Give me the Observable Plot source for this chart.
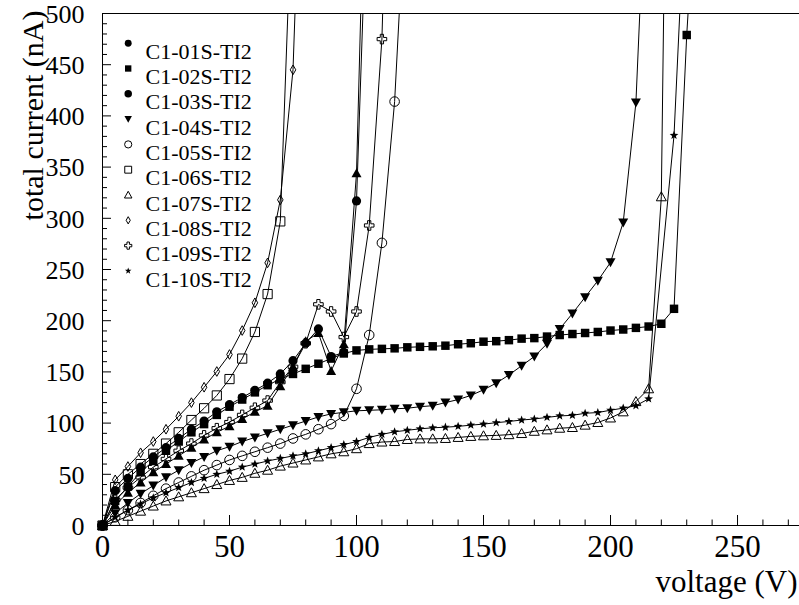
<!DOCTYPE html>
<html>
<head>
<meta charset="utf-8">
<script src="https://cdn.jsdelivr.net/npm/d3@7"></script>
<script src="https://cdn.jsdelivr.net/npm/@observablehq/plot@0.6"></script>
<style>
  body { margin: 0; background: #fff; }
  #chart { width: 799px; height: 605px; }
</style>
</head>
<body>
<div id="chart"></div>
<script>
// ---------- data ----------
const voltage = [0,5,10,15,20,25,30,35,40,45,50,55,60,65,70,75,80,85,90,95,100,105,110,115,
                 120,125,130,135,140,145,150,155,160,165,170,175,180,185,190,195,200,205,210,215,
                 220,225,230,235];

const seriesNames = ["C1-01S-TI2","C1-02S-TI2","C1-03S-TI2","C1-04S-TI2","C1-05S-TI2",
                     "C1-06S-TI2","C1-07S-TI2","C1-08S-TI2","C1-09S-TI2","C1-10S-TI2"];

const c01 = [0,34,46,57,67,76,85,94,102,111,118,125,132,139,148,161,178,192,165,169,317,680];
const c02 = [0,24,38,52,63,73,82,91,99,108,116,123,130,137,143,148,153,158,163,168,171,172,172.5,173,
             174,174.5,175,175.6,177,178,179.5,180,181,182.5,183,184.5,186,187,188,189,190.4,191.4,193,194.3,
             197,211.6,479,680];
const c03 = [0,20,32,42,52,60,68,76,84,91,97,104,111,117,136,155,180,188,151,177,344,815];
const c04 = [0,12,22,31,39,47,54,61,67,73,77,82,86,90,94,98,102,106,109,110.5,112,112.5,113,114,
             114.5,116,117,120,123,127,132.5,139,147,156,165,177.5,192,207,223,239,257,296,413,700];
const c05 = [0,8,15,22,29,36,42,48,54,59,64,68,72,76,80,85,89,94,99,107,133.5,186,276,414,650];
const c06 = [0,37.5,50,60,70,80,91,103,114.5,127,143,163,189,226,297,640];
const c07 = [0,4,9,14,19,24,28,32,36,40,44,47,51,54,58,61,64,67,70,72,75,80,81.5,82,
             84,84.6,84.6,85,86,87,87.6,88,88.7,89.8,92,93.4,95,95.7,98,100.6,105,111,121,133.5,
             321,1300];
const c08 = [0,44.6,57.6,71,82,94,106.7,120,135,150.4,167,190.4,217.5,256.5,318,445,800];
const c09 = [0,25,37,47,57,65,73,80,88,95,101,108,115,122,140,155,178,216,209,184,209,293,475,900];
const c10 = [0,8,15,21,27,32,37,42,46,50,53,57,60,63,65.5,68,70,73,76,79,82,86,89,91.5,
             93,94.4,95.4,96,96.8,98,99,100.4,101.6,103,104,105.6,107,107.6,109.6,110.3,112.6,114.6,117,123.7,
             null,381,645];

const xMajor = [0,50,100,150,200,250];
const xMinor = [10,20,30,40,60,70,80,90,110,120,130,140,160,170,180,190,210,220,230,240,260,270];
const yMajor = [0,50,100,150,200,250,300,350,400,450,500];
const yMinor = [10,20,30,40,60,70,80,90,110,120,130,140,160,170,180,190,210,220,230,240,
                260,270,280,290,310,320,330,340,360,370,380,390,410,420,430,440,460,470,480,490];

// ---------- layout ----------
const W = 799, H = 605;
const mL = 102, mR = 0, mT = 13, mB = 80;
const xMax = 274.4, yMax = 500;
const kx = (W - mL - mR) / xMax;   // px per volt
const ky = (H - mT - mB) / yMax;   // px per nA
const FONT = "'Liberation Serif', 'Times New Roman', serif";

// ---------- marker shapes (ROOT-like) ----------
function sym(fn) { return { draw(c, size) { fn(c, Math.sqrt(size / Math.PI)); } }; }
const S = {
  circle: sym((c, r) => { c.moveTo(r, 0); c.arc(0, 0, r, 0, 2 * Math.PI); c.closePath(); }),
  square: sym((c, r) => { const s = r * 0.92; c.moveTo(-s, -s); c.lineTo(s, -s); c.lineTo(s, s); c.lineTo(-s, s); c.closePath(); }),
  triUp: sym((c, r) => { c.moveTo(0, -r); c.lineTo(r, 0.8 * r); c.lineTo(-r, 0.8 * r); c.closePath(); }),
  triDown: sym((c, r) => { c.moveTo(0, r); c.lineTo(r, -0.8 * r); c.lineTo(-r, -0.8 * r); c.closePath(); }),
  diamond: sym((c, r) => { c.moveTo(0, -r * 1.05); c.lineTo(0.6 * r, 0); c.lineTo(0, r * 1.05); c.lineTo(-0.6 * r, 0); c.closePath(); }),
  openCross: sym((c, r) => {
    const a = 0.34 * r, b = r;
    c.moveTo(-a, -b); c.lineTo(a, -b); c.lineTo(a, -a); c.lineTo(b, -a); c.lineTo(b, a); c.lineTo(a, a);
    c.lineTo(a, b); c.lineTo(-a, b); c.lineTo(-a, a); c.lineTo(-b, a); c.lineTo(-b, -a); c.lineTo(-a, -a); c.closePath();
  }),
  star: sym((c, r) => {
    const ri = r * 0.42;
    for (let i = 0; i < 10; i++) {
      const ang = -Math.PI / 2 + i * Math.PI / 5, rr = i % 2 === 0 ? r : ri;
      const px = rr * Math.cos(ang), py = rr * Math.sin(ang);
      if (i === 0) c.moveTo(px, py); else c.lineTo(px, py);
    }
    c.closePath();
  })
};

const series = [
  { name: seriesNames[0], values: c01, symbol: S.circle,    legend: S.circle,    filled: true,  r: 4.6 },
  { name: seriesNames[1], values: c02, symbol: S.square,    legend: S.square,    filled: true,  r: 4.6 },
  { name: seriesNames[2], values: c03, symbol: S.triUp,     legend: S.circle,    filled: true,  r: 5.0 },
  { name: seriesNames[3], values: c04, symbol: S.triDown,   legend: S.triDown,   filled: true,  r: 5.0 },
  { name: seriesNames[4], values: c05, symbol: S.circle,    legend: S.circle,    filled: false, r: 4.8 },
  { name: seriesNames[5], values: c06, symbol: S.square,    legend: S.square,    filled: false, r: 5.0 },
  { name: seriesNames[6], values: c07, symbol: S.triUp,     legend: S.triUp,     filled: false, r: 5.0 },
  { name: seriesNames[7], values: c08, symbol: S.diamond,   legend: S.diamond,   filled: false, r: 4.6 },
  { name: seriesNames[8], values: c09, symbol: S.openCross, legend: S.openCross, filled: false, r: 4.8 },
  { name: seriesNames[9], values: c10, symbol: S.star,      legend: S.star,      filled: true,  r: 4.6 }
];

const marks = [];

// axis ticks (inside the frame)
marks.push(Plot.ruleX(xMajor, { x: d => d, y1: 0, y2: 10 / ky, stroke: "black", strokeWidth: 1 }));
marks.push(Plot.ruleX(xMinor, { x: d => d, y1: 0, y2: 5.5 / ky, stroke: "black", strokeWidth: 1 }));
marks.push(Plot.ruleY(yMajor, { y: d => d, x1: 0, x2: 9 / kx, stroke: "black", strokeWidth: 1 }));
marks.push(Plot.ruleY(yMinor, { y: d => d, x1: 0, x2: 5 / kx, stroke: "black", strokeWidth: 1 }));

// tick labels
marks.push(Plot.text(xMajor, { x: d => d, y: 0, text: d => String(d), dy: 22, fontSize: 31, fill: "black", fontFamily: FONT }));
marks.push(Plot.text(yMajor, { x: 0, y: d => d, text: d => String(d), dx: -18, dy: 1, textAnchor: "end", fontSize: 26, fill: "black", fontFamily: FONT }));

// data
series.forEach(s => {
  const rows = s.values.map((I, i) => ({ V: voltage[i], I })).filter(d => d.I != null);
  marks.push(Plot.line(rows, { x: "V", y: "I", stroke: "black", strokeWidth: 1, clip: true }));
  marks.push(Plot.dot(rows, {
    x: "V", y: "I", filter: d => d.I <= yMax, symbol: s.symbol, r: s.r,
    fill: s.filled ? "black" : "none", stroke: s.filled ? "none" : "black", strokeWidth: 1
  }));
});

// legend
series.forEach((s, i) => {
  const dy = 29.7 + i * 25.3;
  marks.push(Plot.dot([s.name], {
    frameAnchor: "top-left", dx: 25.7, dy, symbol: s.legend, r: s.r * 0.75,
    fill: s.filled ? "black" : "none", stroke: s.filled ? "none" : "black", strokeWidth: 1
  }));
  marks.push(Plot.text([s.name], {
    frameAnchor: "top-left", dx: 43, dy, text: d => d, textAnchor: "start",
    fontSize: 22, fill: "black", fontFamily: FONT
  }));
});

// axis titles
marks.push(Plot.text(["voltage (V)"], { frameAnchor: "bottom-right", dy: 66, dx: -2, text: d => d, textAnchor: "end", fontSize: 31, fill: "black", fontFamily: FONT }));
marks.push(Plot.text(["total current (nA)"], { frameAnchor: "top-left", dx: -81, dy: -3, rotate: -90, text: d => d, textAnchor: "end", fontSize: 30, fill: "black", fontFamily: FONT }));

marks.push(Plot.frame({ stroke: "black", strokeWidth: 1 }));

const chart = Plot.plot({
  width: W, height: H,
  marginLeft: mL, marginRight: mR, marginTop: mT, marginBottom: mB,
  x: { domain: [0, xMax], axis: null },
  y: { domain: [0, yMax], axis: null },
  style: { background: "white", fontFamily: FONT, overflow: "visible" },
  marks
});
document.getElementById("chart").appendChild(chart);
</script>
</body>
</html>
